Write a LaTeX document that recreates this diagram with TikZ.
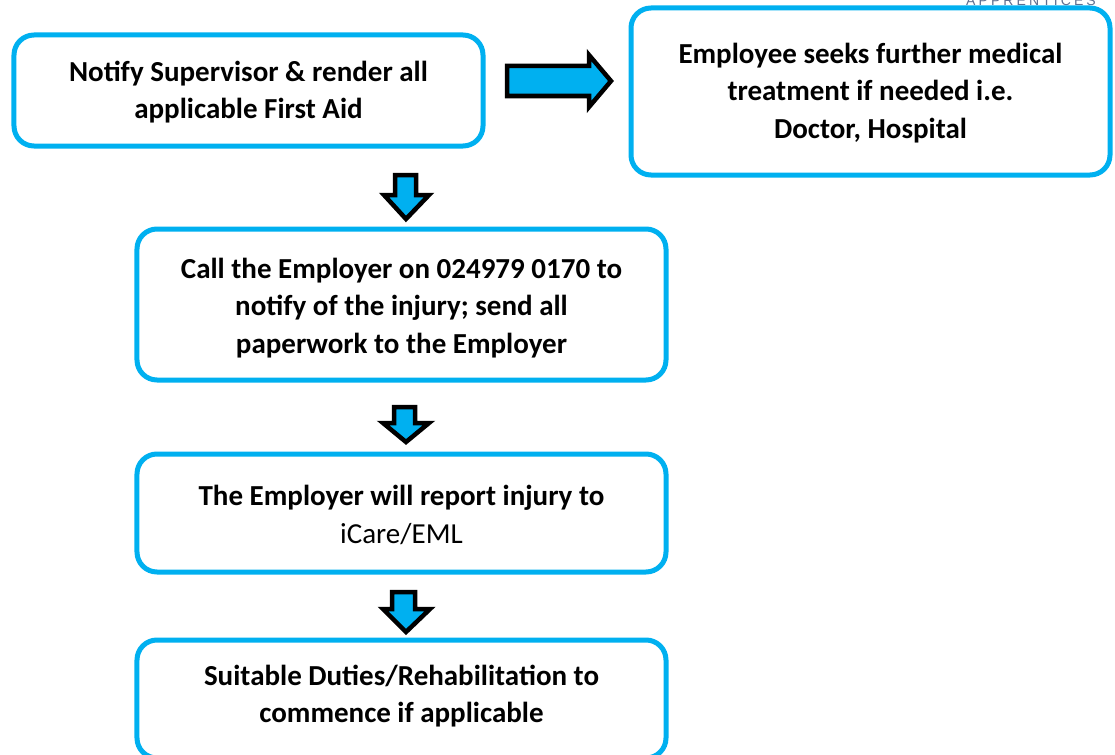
\documentclass[tikz,border=0pt]{standalone}
\usepackage{fontspec}
\setmainfont{Carlito}
\newfontfamily\apfont[LetterSpace=22]{Liberation Sans}
\definecolor{bluebd}{HTML}{00B0F0}
\definecolor{apgray}{HTML}{5F6E8F}
\begin{document}
\begin{tikzpicture}[x=1bp,y=-1bp,
  box/.style={draw=bluebd, line width=5bp, rounded corners=20bp, fill=white, inner sep=0pt},
  txt/.style={align=center, font=\fontsize{29bp}{37.5bp}\selectfont\bfseries, inner sep=0pt},
  blockarrow/.style={draw=black, line width=4.5bp, fill=bluebd, line join=miter}]
\useasboundingbox (0,0) rectangle (1115,755);

% boxes
\node[box, minimum width=469bp, minimum height=111bp] (b1) at (248.5,90.5) {};
\node[box, minimum width=479bp, minimum height=167bp] (b2) at (870.5,91.5) {};
\node[box, minimum width=529bp, minimum height=151bp] (b3) at (401.5,304.5) {};
\node[box, minimum width=529bp, minimum height=118bp] (b4) at (401.5,513) {};
\node[box, minimum width=529bp, minimum height=118bp] (b5) at (401.5,699) {};

% texts
\node[txt] (t1) at (248.5,92) {Notify Supervisor \& render all\\applicable First Aid};
\node[txt] (t2) at (870.5,93) {Employee seeks further medical\\treatment if needed i.e.\\Doctor, Hospital};
\node[txt] (t3) at (401.5,308) {Call the Employer on 024979 0170 to\\notify of the injury; send all\\paperwork to the Employer};
\node[txt] (t4) at (401.5,515) {The Employer will report injury to\\\mdseries iCare/EML};
\node[txt] (t5) at (401.5,696) {Suitable Duties/Rehabilitation to\\commence if applicable};

% logo text (cut off at top, as in the reference)
\node[anchor=base, font=\apfont\fontsize{14bp}{16bp}\selectfont, text=apgray, inner sep=0pt] (logo) at (1031,6) {APPRENTICES};

% block arrows
\draw[blockarrow] (507,66) -- (589,66) -- (589,55) -- (611,81) -- (589,107) -- (589,96) -- (507,96) -- cycle;
\draw[blockarrow] (395,175) -- (416,175) -- (416,195) -- (429,195) -- (406,219) -- (384,195) -- (395,195) -- cycle;
\draw[blockarrow] (394,407) -- (415,407) -- (415,423) -- (429,423) -- (406,442) -- (383,423) -- (394,423) -- cycle;
\draw[blockarrow] (392,592) -- (415,592) -- (415,609) -- (430,609) -- (406,632) -- (383,609) -- (392,609) -- cycle;
\end{tikzpicture}
\end{document}
